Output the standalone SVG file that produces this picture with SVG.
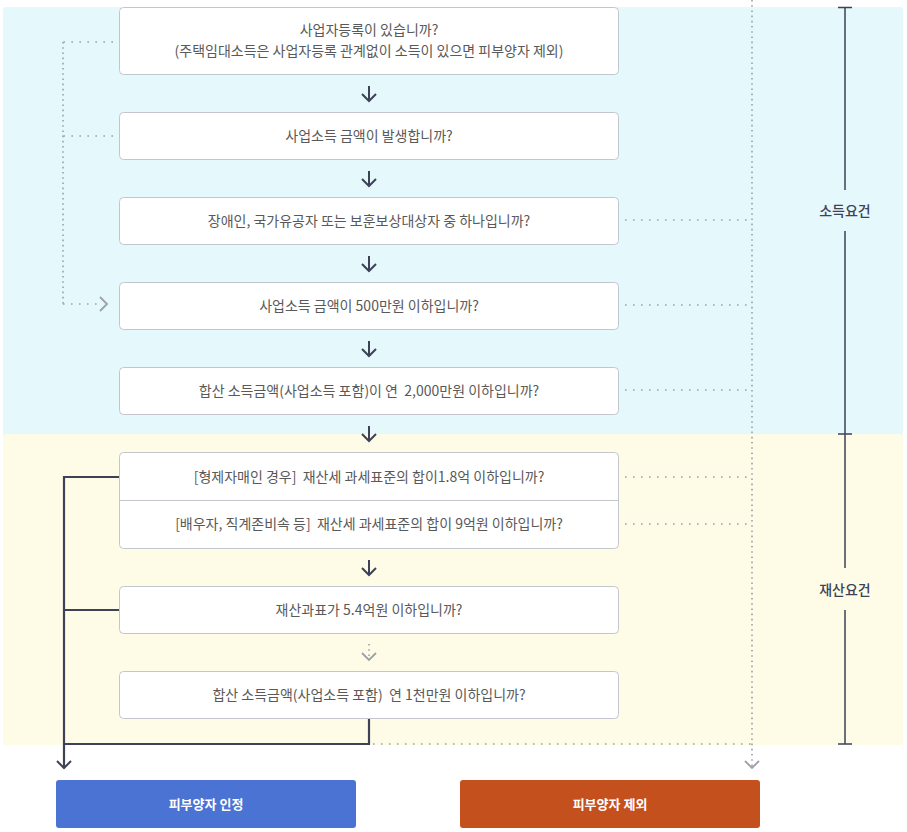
<svg xmlns="http://www.w3.org/2000/svg" width="907" height="832" viewBox="0 0 907 832">
<style>
.box{fill:#ffffff;stroke:#c3c6cd;stroke-width:1}
.t{font-family:"Noto Sans CJK KR","Noto Sans",sans-serif;font-size:14px;fill:#595959;text-anchor:middle;white-space:pre}
.lbl{font-family:"Noto Sans CJK KR","Noto Sans",sans-serif;font-size:14px;font-weight:500;fill:#3d4257;text-anchor:middle}
.btxt{font-family:"Noto Sans CJK KR","Noto Sans",sans-serif;font-size:13px;font-weight:700;fill:#ffffff;text-anchor:middle}
.solid{fill:none;stroke:#3d4257;stroke-width:2.2}
.arr{fill:none;stroke:#3d4257;stroke-width:2}
.dotH{fill:none;stroke:#9ca1a9;stroke-width:1.6;stroke-dasharray:1.6 6.4}
.dotV{fill:none;stroke:#9ca1a9;stroke-width:1.6;stroke-dasharray:1.6 3.6}
.garr{fill:none;stroke:#9ca1a9;stroke-width:1.8}
.brk{fill:none;stroke:#3d4257;stroke-width:1.5}
</style>
<g id="background">
<rect x="3" y="7" width="900" height="432" rx="3" fill="#e5f8fc"/>
<rect x="3" y="434" width="900" height="311" rx="3" fill="#fefce7"/>
</g>
<g id="connectors">
<path class="arr" d="M369 86V101M362 94L369 101L376 94"/>
<path class="arr" d="M369 171V186M362 179L369 186L376 179"/>
<path class="arr" d="M369 256V271M362 264L369 271L376 264"/>
<path class="arr" d="M369 341V356M362 349L369 356L376 349"/>
<path class="arr" d="M369 426V441M362 434L369 441L376 434"/>
<path class="arr" d="M369 560V575M362 568L369 575L376 568"/>
<path class="dotV" d="M369 644V659"/>
<path class="garr" d="M362 653L369 660L376 653"/>
<path class="dotH" d="M113 42H63"/>
<path class="dotH" d="M113 136H63"/>
<path class="dotV" d="M63 42V304"/>
<path class="dotH" d="M63 304H98"/>
<path class="garr" d="M100 297L107 304L100 311"/>
<path class="dotV" d="M752 0V766"/>
<path class="garr" d="M745 761L752 768L759 761"/>
<path class="dotH" d="M625 220H752"/>
<path class="dotH" d="M625 305H752"/>
<path class="dotH" d="M625 390H752"/>
<path class="dotH" d="M625 477H752"/>
<path class="dotH" d="M625 524H752"/>
<path class="dotH" d="M373 744H752"/>
<path class="solid" d="M119 477H64V767"/>
<path class="solid" d="M119 610H64"/>
<path class="solid" d="M369 718V744H64"/>
<path class="arr" d="M57 761L64 768L71 761"/>
</g>
<g id="bracket-income">
<path class="brk" d="M838 7.5H852M845 7.5V190M845 231V434"/>
<text class="lbl" x="845" y="216">소득요건</text>
</g>
<g id="bracket-asset">
<path class="brk" d="M838 434H852M845 434V568M845 610V744M838 744H852"/>
<text class="lbl" x="845" y="595">재산요건</text>
</g>
<g id="n1">
<rect class="box" x="119.5" y="7.5" width="499" height="67" rx="4"/>
<text class="t" x="369" y="35">사업자등록이 있습니까?</text>
<text class="t" x="369" y="56">(주택임대소득은 사업자등록 관계없이 소득이 있으면 피부양자 제외)</text>
</g>
<g id="n2">
<rect class="box" x="119.5" y="112.5" width="499" height="47" rx="4"/>
<text class="t" x="369" y="141">사업소득 금액이 발생합니까?</text>
</g>
<g id="n3">
<rect class="box" x="119.5" y="197.5" width="499" height="47" rx="4"/>
<text class="t" x="369" y="226">장애인, 국가유공자 또는 보훈보상대상자 중 하나입니까?</text>
</g>
<g id="n4">
<rect class="box" x="119.5" y="282.5" width="499" height="47" rx="4"/>
<text class="t" x="369" y="311">사업소득 금액이 500만원 이하입니까?</text>
</g>
<g id="n5">
<rect class="box" x="119.5" y="367.5" width="499" height="47" rx="4"/>
<text class="t" x="369" y="396" xml:space="preserve">합산 소득금액(사업소득 포함)이 연  2,000만원 이하입니까?</text>
</g>
<g id="n6">
<rect class="box" x="119.5" y="452.5" width="499" height="96" rx="4"/>
<path d="M119.5 500.5H618.5" stroke="#c3c6cd" stroke-width="1"/>
<text class="t" x="369" y="482" xml:space="preserve">[형제자매인 경우]  재산세 과세표준의 합이1.8억 이하입니까?</text>
<text class="t" x="369" y="529" xml:space="preserve">[배우자, 직계존비속 등]  재산세 과세표준의 합이 9억원 이하입니까?</text>
</g>
<g id="n7">
<rect class="box" x="119.5" y="586.5" width="499" height="47" rx="4"/>
<text class="t" x="369" y="615">재산과표가 5.4억원 이하입니까?</text>
</g>
<g id="n8">
<rect class="box" x="119.5" y="671.5" width="499" height="47" rx="4"/>
<text class="t" x="369" y="700" xml:space="preserve">합산 소득금액(사업소득 포함)  연 1천만원 이하입니까?</text>
</g>
<g id="yes">
<rect x="56" y="780" width="300" height="48" rx="3" fill="#4a73d3"/>
<text class="btxt" x="206" y="809">피부양자 인정</text>
</g>
<g id="no">
<rect x="460" y="780" width="300" height="48" rx="3" fill="#c4501e"/>
<text class="btxt" x="610" y="809">피부양자 제외</text>
</g>
</svg>
